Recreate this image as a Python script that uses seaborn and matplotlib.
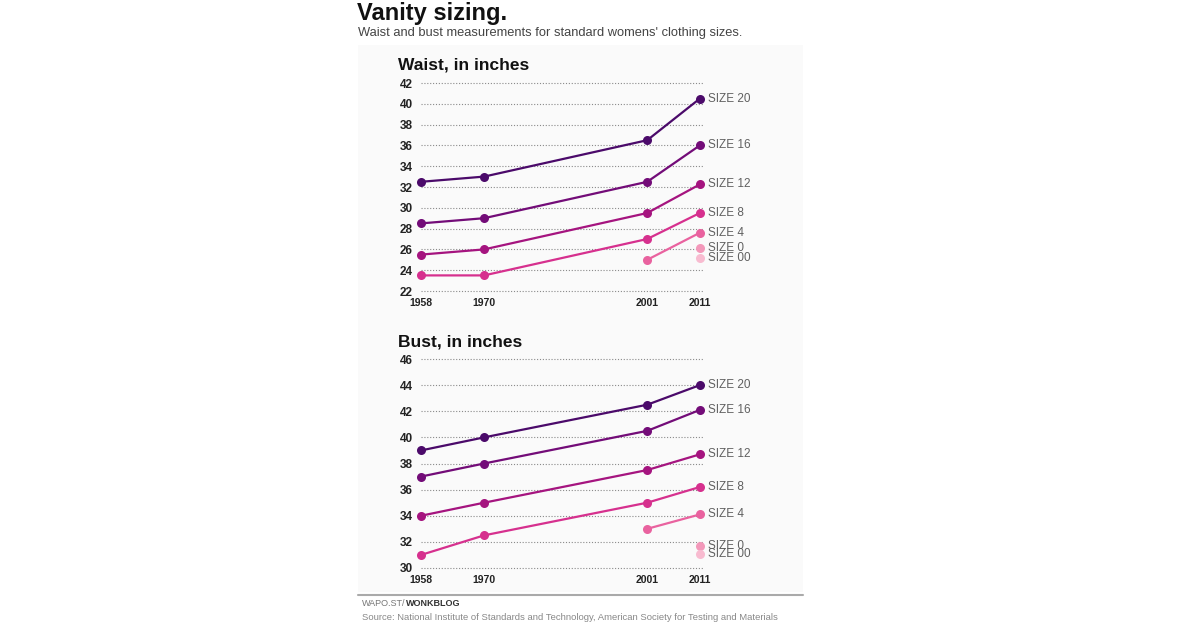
import pandas as pd
import numpy as np
import seaborn as sns
import matplotlib.pyplot as plt
from matplotlib.patches import Rectangle
from matplotlib.lines import Line2D

years = [1958, 1970, 2001, 2011]
sizes = ['SIZE 20', 'SIZE 16', 'SIZE 12', 'SIZE 8', 'SIZE 4', 'SIZE 0', 'SIZE 00']

# None = size did not exist yet
waist = {
    'SIZE 20': [32.5, 33, 36.5, 40.5],
    'SIZE 16': [28.5, 29, 32.5, 36],
    'SIZE 12': [25.5, 26, 29.5, 32.25],
    'SIZE 8': [23.5, 23.5, 27, 29.5],
    'SIZE 4': [None, None, 25, 27.6],
    'SIZE 0': [None, None, None, 26.1],
    'SIZE 00': [None, None, None, 25.2],
}
bust = {
    'SIZE 20': [39, 40, 42.5, 44],
    'SIZE 16': [37, 38, 40.5, 42.1],
    'SIZE 12': [34, 35, 37.5, 38.7],
    'SIZE 8': [31, 32.5, 35, 36.2],
    'SIZE 4': [None, None, 33, 34.1],
    'SIZE 0': [None, None, None, 31.7],
    'SIZE 00': [None, None, None, 31.1],
}
colors = ['#4b0a6a', '#730c78', '#a5147f', '#d6308e', '#e9629f', '#f398ba', '#f8bbd0']
palette = dict(zip(sizes, colors))


def to_long(d):
    rows = []
    for s in sizes:
        for y, v in zip(years, d[s]):
            if v is not None:
                rows.append((s, y, v))
    return pd.DataFrame(rows, columns=['size', 'year', 'value'])


sns.set_style('white')
plt.rcParams['font.family'] = ['Liberation Sans', 'DejaVu Sans']

fig = plt.figure(figsize=(12, 6.3), dpi=100)
W, H = 1200, 630


def fx(px):
    return px / W


def fy(py):
    return 1 - py / H


# light panel behind charts
fig.patches.append(Rectangle((fx(358), fy(592)), fx(803) - fx(358), fy(45) - fy(592),
                             transform=fig.transFigure, facecolor='#fafafa',
                             edgecolor='none', zorder=-5))

panels = [
    ('Waist, in inches', waist, 83, 291, (22, 42), np.arange(22, 43, 2), 69),
    ('Bust, in inches', bust, 359, 568, (30, 46), np.arange(30, 47, 2), 346),
]

for title, data, top, bottom, ylim, yticks, title_y in panels:
    ax = fig.add_axes([fx(421), fy(bottom), fx(703) - fx(421), fy(top) - fy(bottom)])
    ax.set_facecolor('none')
    ax.set_zorder(2)
    df = to_long(data)
    for t in yticks:
        ax.axhline(t, color='#8a8a8a', lw=0.8, ls=(0, (1, 1.6)), zorder=1)
    sns.lineplot(data=df, x='year', y='value', hue='size', hue_order=sizes,
                 palette=palette, marker='o', markersize=6.5, markeredgewidth=0,
                 linewidth=1.6, legend=False, ax=ax, zorder=3)
    for line in ax.lines:
        line.set_clip_on(False)
    last = df[df['year'] == 2011]
    for _, r in last.iterrows():
        ax.annotate(r['size'], (2011, r['value']), xytext=(6, 0),
                    textcoords='offset points', va='center', ha='left',
                    fontsize=8.5, color='#606060', annotation_clip=False)
    ax.set_xlim(1958, 2011.6)
    ax.set_ylim(*ylim)
    ax.set_yticks(yticks)
    ax.set_xticks(years)
    ax.set_xlabel('')
    ax.set_ylabel('')
    ax.tick_params(axis='y', length=0, pad=6, labelsize=8.5)
    ax.tick_params(axis='x', length=0, pad=5, labelsize=7.5)
    for lab in ax.get_yticklabels() + ax.get_xticklabels():
        lab.set_fontweight('bold')
        lab.set_color('#222222')
    sns.despine(ax=ax, left=True, bottom=True)
    fig.text(fx(398), fy(title_y), title, fontsize=12.5, fontweight='bold',
             color='#111111', va='baseline', ha='left')

fig.text(fx(357), fy(20), 'Vanity sizing.', fontsize=17, fontweight='bold',
         color='#111111', va='baseline', ha='left')
fig.text(fx(358), fy(36), "Waist and bust measurements for standard womens' clothing sizes.",
         fontsize=9.3, color='#444444', va='baseline', ha='left')

fig.lines.append(Line2D([fx(358), fx(803)], [fy(595), fy(595)], transform=fig.transFigure,
                        color='#aaaaaa', lw=1.5))
t1 = fig.text(fx(362), fy(604), 'WAPO.ST/', fontsize=6.5, color='#777777',
              va='center', ha='left')
fig.canvas.draw()
bb = t1.get_window_extent()
fig.text(bb.x1 / W, fy(604), 'WONKBLOG', fontsize=6.5, fontweight='bold',
         color='#333333', va='center', ha='left')
fig.text(fx(362), fy(617),
         'Source: National Institute of Standards and Technology, American Society for Testing and Materials',
         fontsize=6.8, color='#888888', va='center', ha='left')

fig.savefig('out.png', dpi=100, facecolor='white')
